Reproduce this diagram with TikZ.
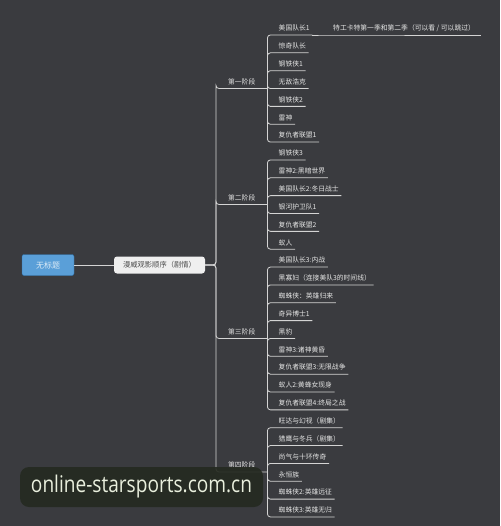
\documentclass[tikz,border=0pt]{standalone}
\usepackage{graphicx}
\usepackage{fontspec}
\newfontfamily\cjk{Noto Sans CJK SC}
\newfontfamily\wmfont{Open Sans}
\definecolor{bgdark}{HTML}{3A3B3F}
\definecolor{linegray}{HTML}{D4D4D4}
\definecolor{rootblue}{HTML}{5A9FD8}
\definecolor{rootedge}{HTML}{2E6FA8}
\definecolor{mapwhite}{HTML}{EFEFEF}
\definecolor{wmbox}{HTML}{252A21}
\definecolor{wmtext}{HTML}{E9EFDD}
\begin{document}
\begin{tikzpicture}[x=1pt,y=-1pt,
  every node/.style={font=\cjk\fontsize{6.8}{8}\selectfont},
  branch/.style={draw=linegray, line width=0.8pt, rounded corners=3pt},
  root/.style={draw=rootedge, fill=rootblue, rounded corners=2pt, minimum width=52pt,
    minimum height=21pt, text=white!80!rootblue, font=\cjk\fontsize{8}{9}\selectfont},
  map/.style={fill=mapwhite, rounded corners=3pt, minimum width=91pt, minimum height=17pt,
    text=black!70, font=\cjk\fontsize{7.3}{9}\selectfont},
  phase/.style={anchor=south west, minimum width=51pt, inner xsep=0pt, inner ysep=3pt,
    text height=6pt, text depth=1pt, text=white!88!black},
  film/.style={anchor=south west, inner xsep=2.5pt, inner ysep=3pt,
    text height=6pt, text depth=1pt, text=white!90!black},
  wm/.style={fill=wmbox, fill opacity=0.92, text opacity=1, rounded corners=9pt,
    minimum width=243pt, minimum height=40pt, text=wmtext, font=\wmfont\fontsize{23}{26}\selectfont}]

  % background
  \fill[bgdark] (0,0) rectangle (500,526);
  \useasboundingbox (0,0) rectangle (500,526);

  % root and central topic
  \node[root] (root) at (48,265) {无标题};
  \node[map] (map) at (159.5,265) {漫威观影顺序（剧情）};
  \draw[branch] (root) -- (map);
  \coordinate (spine) at (216,265);

  % Phase one
  \node[phase] (p1) at (216,88.5) {第一阶段};
  \draw[branch] (map.east) -- (spine) |- (p1.south west) -- (p1.south east);
  \foreach \t [count=\i from 0] in {美国队长1,惊奇队长,钢铁侠1,无敌浩克,钢铁侠2,雷神,复仇者联盟1}{
    \node[film] (f1-\i) at (276,{35+17.85*\i}) {\t};
    \draw[branch] (p1.south east) |- (f1-\i.south west) -- (f1-\i.south east);
  }
  \node[film, inner xsep=6pt] (agent) at (327,35) {特工卡特第一季和第二季（可以看 / 可以跳过）};
  \draw[branch] (f1-0.south east) -- (agent.south west) -- (agent.south east);

  % Phase two
  \node[phase] (p2) at (216,204.5) {第二阶段};
  \draw[branch] (map.east) -- (spine) |- (p2.south west) -- (p2.south east);
  \foreach \t [count=\i from 0] in {钢铁侠3,雷神2:黑暗世界,美国队长2:冬日战士,银河护卫队1,复仇者联盟2,蚁人}{
    \node[film] (f2-\i) at (276,{35+17.85*(\i+7)}) {\t};
    \draw[branch] (p2.south east) |- (f2-\i.south west) -- (f2-\i.south east);
  }

  % Phase three
  \node[phase] (p3) at (216,338.5) {第三阶段};
  \draw[branch] (map.east) -- (spine) |- (p3.south west) -- (p3.south east);
  \foreach \t [count=\i from 0] in {美国队长3:内战,黑寡妇（连接美队3的时间线）,蜘蛛侠：英雄归来,奇异博士1,黑豹,雷神3:诸神黄昏,复仇者联盟3:无限战争,蚁人2:黄蜂女现身,复仇者联盟4:终局之战}{
    \node[film] (f3-\i) at (276,{35+17.85*(\i+13)}) {\t};
    \draw[branch] (p3.south east) |- (f3-\i.south west) -- (f3-\i.south east);
  }

  % Phase four
  \node[phase] (p4) at (216,472) {第四阶段};
  \draw[branch] (map.east) -- (spine) |- (p4.south west) -- (p4.south east);
  \foreach \t [count=\i from 0] in {旺达与幻视（剧集）,猎鹰与冬兵（剧集）,尚气与十环传奇,永恒族,蜘蛛侠2:英雄远征,蜘蛛侠3:英雄无归}{
    \node[film] (f4-\i) at (276,{35+17.85*(\i+22)}) {\t};
    \draw[branch] (p4.south east) |- (f4-\i.south west) -- (f4-\i.south east);
  }

  % site watermark
  \node[wm] (mark) at (141.5,487) {\scalebox{0.83}[1]{online-starsports.com.cn}};
\end{tikzpicture}
\end{document}
